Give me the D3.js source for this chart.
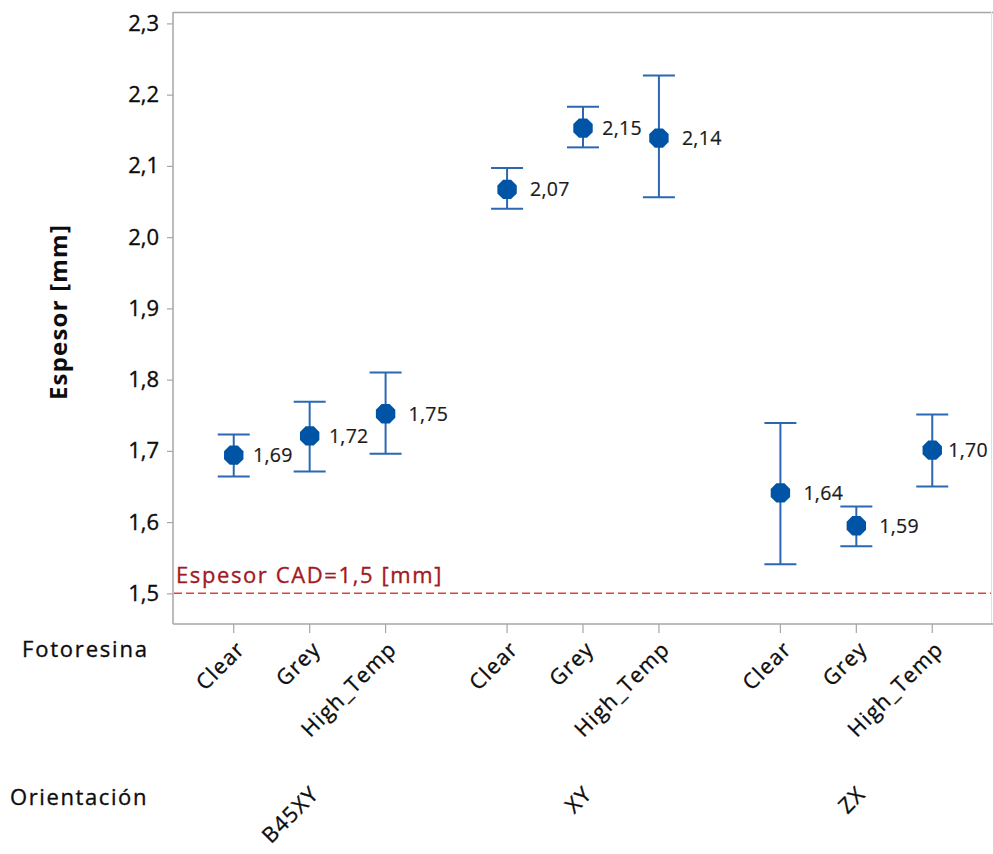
<!DOCTYPE html>
<html><head><meta charset="utf-8">
<script src="https://cdn.jsdelivr.net/npm/d3@7"></script>
<style>body{margin:0;background:#fff}svg{display:block}text{font-family:"Open Sans","Noto Sans",sans-serif}</style>
</head><body>
<svg id="c" width="993" height="854"></svg>
<script>
const orientations = ["B45XY","XY","ZX"];
const resins = ["Clear","Grey","High_Temp"];
const means = [1.694,1.721,1.752, 2.067,2.153,2.139, 1.641,1.595,1.701];
const meanLabels = ["1,69","1,72","1,75","2,07","2,15","2,14","1,64","1,59","1,70"];
const lower = [1.664,1.671,1.696, 2.040,2.126,2.056, 1.541,1.566,1.650];
const upper = [1.723,1.769,1.810, 2.097,2.183,2.227, 1.739,1.622,1.751];
const yTicks = [1.5,1.6,1.7,1.8,1.9,2.0,2.1,2.2,2.3];
const refValue = 1.5;
const refLabel = "Espesor CAD=1,5 [mm]";

const svg = d3.select("#c");
const L=173, R=993, T=12, B=624;
const y = d3.scaleLinear().domain([1.457,2.316]).range([B,T]);
const xo = d3.scaleBand().domain(orientations).range([L,R]);
const xi = d3.scalePoint().domain(resins).range([0,xo.bandwidth()]).padding(0.8);
const data = [];
orientations.forEach((o,i)=>resins.forEach((r,j)=>{const k=i*3+j;data.push({o,r,m:means[k],lab:meanLabels[k],lo:lower[k],hi:upper[k]});}));
const X = d=>xo(d.o)+xi(d.r);
const txt="#0d0d0d";
const axisCol="#a6a6a6";
const heavy = s=>s.attr("stroke",function(){return d3.select(this).attr("fill");}).attr("stroke-width",0.35);
// frame
svg.append("line").attr("x1",L).attr("x2",R).attr("y1",T+0.5).attr("y2",T+0.5).attr("stroke",axisCol).attr("stroke-width",1.5);
svg.append("line").attr("x1",R-1.5).attr("x2",R-1.5).attr("y1",T).attr("y2",B).attr("stroke","#e0e0e0").attr("stroke-width",1);

// y axis
const ya = svg.append("g").attr("transform",`translate(${L},0)`)
  .call(d3.axisLeft(y).tickValues(yTicks).tickSize(6).tickPadding(8).tickFormat(d=>d3.format(".1f")(d).replace(".",",")));
ya.select(".domain").attr("stroke",axisCol).attr("stroke-width",1.5).attr("d",`M-0,${T}V${B}`);
ya.selectAll(".tick line").attr("stroke",axisCol).attr("stroke-width",1.2);
ya.selectAll(".tick text").attr("font-size",22).attr("fill",txt).call(heavy);

// x axis
const xa = svg.append("g").attr("transform",`translate(0,${B})`);
xa.append("line").attr("x1",L).attr("x2",R).attr("y1",0).attr("y2",0).attr("stroke",axisCol).attr("stroke-width",1.5);
xa.selectAll("line.t").data(data).join("line").attr("class","t")
  .attr("x1",X).attr("x2",X).attr("y1",0).attr("y2",9).attr("stroke",axisCol).attr("stroke-width",1.2);
xa.selectAll("text.r").data(data).join("text").attr("class","r")
  .attr("transform",d=>`translate(${X(d)+1},${15}) rotate(-45)`)
  .attr("text-anchor","end").attr("dy","0.75em").attr("font-size",21.5).attr("letter-spacing",1.3).attr("fill",txt).text(d=>d.r).call(heavy);
svg.selectAll("text.o").data(orientations).join("text").attr("class","o")
  .attr("transform",d=>`translate(${xo(d)+xo.bandwidth()/2-1},${784}) rotate(-45)`)
  .attr("text-anchor","end").attr("dy","0.75em").attr("font-size",21.5).attr("letter-spacing",1.3).attr("fill",txt).text(d=>d).call(heavy);
svg.append("text").attr("x",22).attr("y",657).attr("font-size",22).attr("letter-spacing",1.8).attr("fill",txt).text("Fotoresina").call(heavy);
svg.append("text").attr("x",10).attr("y",805).attr("font-size",22).attr("letter-spacing",1.6).attr("fill",txt).text("Orientación").call(heavy);

// y title
svg.append("text").attr("transform",`translate(67,${312}) rotate(-90)`).attr("text-anchor","middle")
  .attr("font-size",24).attr("font-weight","bold").attr("letter-spacing",1.2).attr("fill",txt).text("Espesor [mm]");

// reference line
svg.append("line").attr("x1",L+1).attr("x2",R-2).attr("y1",y(refValue)).attr("y2",y(refValue))
  .attr("stroke","#e2403c").attr("stroke-width",1.5).attr("stroke-dasharray","8,4");
svg.append("text").attr("x",L+3).attr("y",y(refValue)-10).attr("font-size",22).attr("letter-spacing",1.6).attr("fill","#a3191f").text(refLabel).call(heavy);

// error bars
const eb = svg.append("g").attr("stroke","#2a68b3").attr("stroke-width",2).attr("fill","none");
eb.selectAll("line.v").data(data).join("line").attr("class","v").attr("x1",X).attr("x2",X).attr("y1",d=>y(d.lo)).attr("y2",d=>y(d.hi));
eb.selectAll("line.h").data(data).join("line").attr("class","h").attr("x1",d=>X(d)-16).attr("x2",d=>X(d)+16).attr("y1",d=>y(d.hi)).attr("y2",d=>y(d.hi));
eb.selectAll("line.l").data(data).join("line").attr("class","l").attr("x1",d=>X(d)-16).attr("x2",d=>X(d)+16).attr("y1",d=>y(d.lo)).attr("y2",d=>y(d.lo));

// octagon markers
const r=10.5;
const oct = (cx,cy)=>d3.range(8).map(i=>{const a=Math.PI/8+i*Math.PI/4;return [cx+r*Math.cos(a),cy+r*Math.sin(a)];});
svg.selectAll("path.m").data(data).join("path").attr("class","m")
  .attr("d",d=>"M"+oct(X(d),y(d.m)).join("L")+"Z").attr("fill","#0054a6");
// value labels: placed right of marker, nudged left if they would hit the next error bar or the frame
const vl = svg.selectAll("text.v").data(data).join("text").attr("class","v")
  .attr("y",d=>y(d.m)).attr("dy","0.35em").attr("font-size",19.5).attr("letter-spacing",0.3).attr("fill","#1a1a1a").text(d=>d.lab);
vl.attr("stroke","#1a1a1a").attr("stroke-width",0.2);
vl.each(function(d,i){
  const w=this.getComputedTextLength();
  let limit=R-5;
  const n=data[i+1];
  if(n && n.o===d.o){const cy=y(d.m);if(cy>y(n.hi)-12 && cy<y(n.lo)+12) limit=X(n)-17;}
  let x=X(d)+23;
  if(x+w>limit) x=Math.max(X(d)+14,limit-w);
  d3.select(this).attr("x",x);
});
</script>
</body></html>
